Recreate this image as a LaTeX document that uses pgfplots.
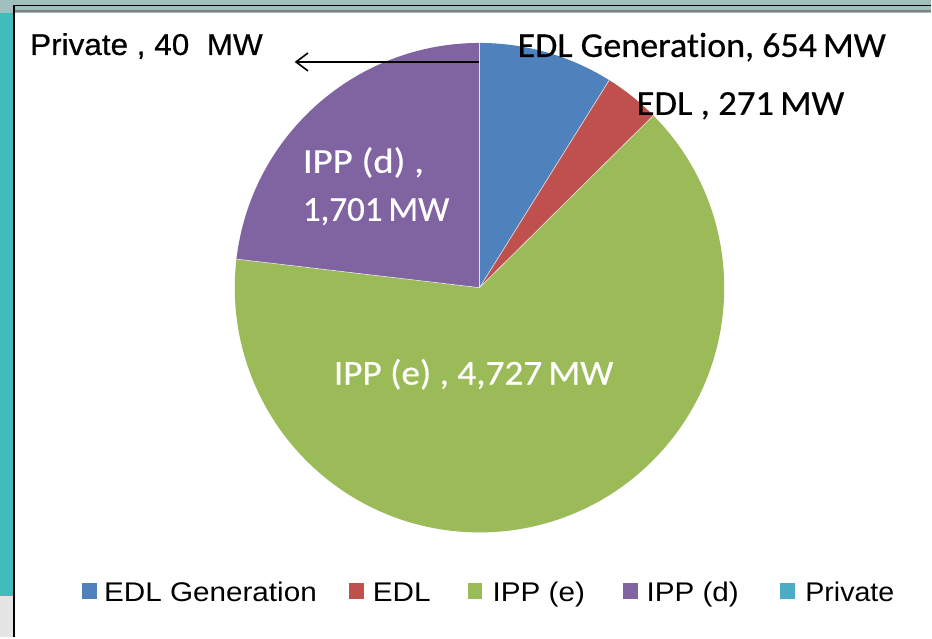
\documentclass[border=0pt]{standalone}
\usepackage{fontspec}
\usepackage{pgfplots}
\pgfplotsset{compat=1.18}
\usetikzlibrary{arrows.meta}
\newfontfamily\calib[Ligatures=NoCommon, FakeBold=0.5]{Carlito}
\newfontfamily\arial{Liberation Sans}
\newfontfamily\arialb[FakeBold=0.6]{Liberation Sans}

\definecolor{cBlue}{HTML}{4F81BD}
\definecolor{cRed}{HTML}{C0504D}
\definecolor{cGreen}{HTML}{9BBB59}
\definecolor{cPurple}{HTML}{8064A2}
\definecolor{cTeal}{HTML}{4BACC6}
\definecolor{winTop}{HTML}{A0C0BE}
\definecolor{winSide}{HTML}{40BDBB}

\begin{document}
\begin{tikzpicture}
% slice values (MW); Private is too small to show in the pie
\def\vGen{654}
\def\vEDL{271}
\def\vIPPe{4727}
\def\vIPPd{1701}
\pgfmathsetmacro\tot{\vGen+\vEDL+\vIPPe+\vIPPd}
\pgfmathsetmacro\aA{90}
\pgfmathsetmacro\aB{\aA-\vGen/\tot*360}
\pgfmathsetmacro\aC{\aB-\vEDL/\tot*360}
\pgfmathsetmacro\aD{\aC-\vIPPe/\tot*360}
\pgfmathsetmacro\aE{\aD-\vIPPd/\tot*360}
\begin{axis}[
    scale only axis,
    width=932pt, height=638pt,
    xmin=0, xmax=932, ymin=0, ymax=638,
    hide axis, clip=false,
]
% window background
\fill[winTop] (axis cs:0,625) rectangle (axis cs:932,638);
\fill[winSide] (axis cs:0,41) rectangle (axis cs:14,625);
\fill[gray!20] (axis cs:0,0) rectangle (axis cs:14,41);
\fill[white] (axis cs:14,0) rectangle (axis cs:932,625);
\draw[black, line width=1.5pt] (axis cs:13,632.5) -- (axis cs:932,632.5);
\draw[gray, line width=2pt] (axis cs:13,627) -- (axis cs:932,627);
\draw[black, line width=2pt] (axis cs:14,0) -- (axis cs:14,633);

% pie, center (480,350), radius 245
\fill[cBlue] (axis cs:480,350) -- ++(\aA:245pt) arc[start angle=\aA, end angle=\aB, radius=245pt] -- cycle;
\fill[cRed] (axis cs:480,350) -- ++(\aB:245pt) arc[start angle=\aB, end angle=\aC, radius=245pt] -- cycle;
\fill[cGreen] (axis cs:480,350) -- ++(\aC:245pt) arc[start angle=\aC, end angle=\aD, radius=245pt] -- cycle;
\fill[cPurple] (axis cs:480,350) -- ++(\aD:245pt) arc[start angle=\aD, end angle=\aE, radius=245pt] -- cycle;
\draw[white!80!gray, line width=0.6pt] (axis cs:480,350) -- ++(\aA:245pt);
\draw[white!80!gray, line width=0.6pt] (axis cs:480,350) -- ++(\aB:245pt);
\draw[white!80!gray, line width=0.6pt] (axis cs:480,350) -- ++(\aC:245pt);
\draw[white!80!gray, line width=0.6pt] (axis cs:480,350) -- ++(\aD:245pt);

% arrow to the Private slice
\draw[black, line width=1.6pt, -{Straight Barb[length=12pt, width=18pt]}] (axis cs:480,576) -- (axis cs:295,576);

% data labels
\node[anchor=base west, inner sep=0, xscale=1.05] at (axis cs:30,583) {\arialb\fontsize{30}{36}\selectfont Private , 40\ \ MW};
\node[anchor=base west, inner sep=0, xscale=1.03] at (axis cs:518,581) {\calib\fontsize{35}{40}\selectfont EDL Generation, 654\,MW};
\node[anchor=base west, inner sep=0, xscale=1.05] at (axis cs:637,523) {\calib\fontsize{35}{40}\selectfont EDL , 271\,MW};
\node[anchor=base west, inner sep=0, white, xscale=1.11] at (axis cs:303,465) {\calib\fontsize{35}{40}\selectfont IPP (d) ,};
\node[anchor=base west, inner sep=0, white] at (axis cs:303,417) {\calib\fontsize{35}{40}\selectfont 1,701\,MW};
\node[anchor=base west, inner sep=0, white, xscale=1.065] at (axis cs:334,253) {\calib\fontsize{35}{40}\selectfont IPP (e) , 4,727\,MW};

% legend
\fill[cBlue] (axis cs:82,38) rectangle (axis cs:97,54);
\node[anchor=base west, inner sep=0, xscale=1.1] at (axis cs:104,36) {\arial\fontsize{27}{32}\selectfont EDL Generation};
\fill[cRed] (axis cs:349,38) rectangle (axis cs:364,54);
\node[anchor=base west, inner sep=0, xscale=1.1] at (axis cs:373,36) {\arial\fontsize{27}{32}\selectfont EDL};
\fill[cGreen] (axis cs:468,38) rectangle (axis cs:483,54);
\node[anchor=base west, inner sep=0, xscale=1.1] at (axis cs:493,36) {\arial\fontsize{27}{32}\selectfont IPP (e)};
\fill[cPurple] (axis cs:624,38) rectangle (axis cs:639,54);
\node[anchor=base west, inner sep=0, xscale=1.1] at (axis cs:647,36) {\arial\fontsize{27}{32}\selectfont IPP (d)};
\fill[cTeal] (axis cs:781,38) rectangle (axis cs:796,54);
\node[anchor=base west, inner sep=0, xscale=1.06] at (axis cs:806,36) {\arial\fontsize{27}{32}\selectfont Private};
\end{axis}
\end{tikzpicture}
\end{document}
